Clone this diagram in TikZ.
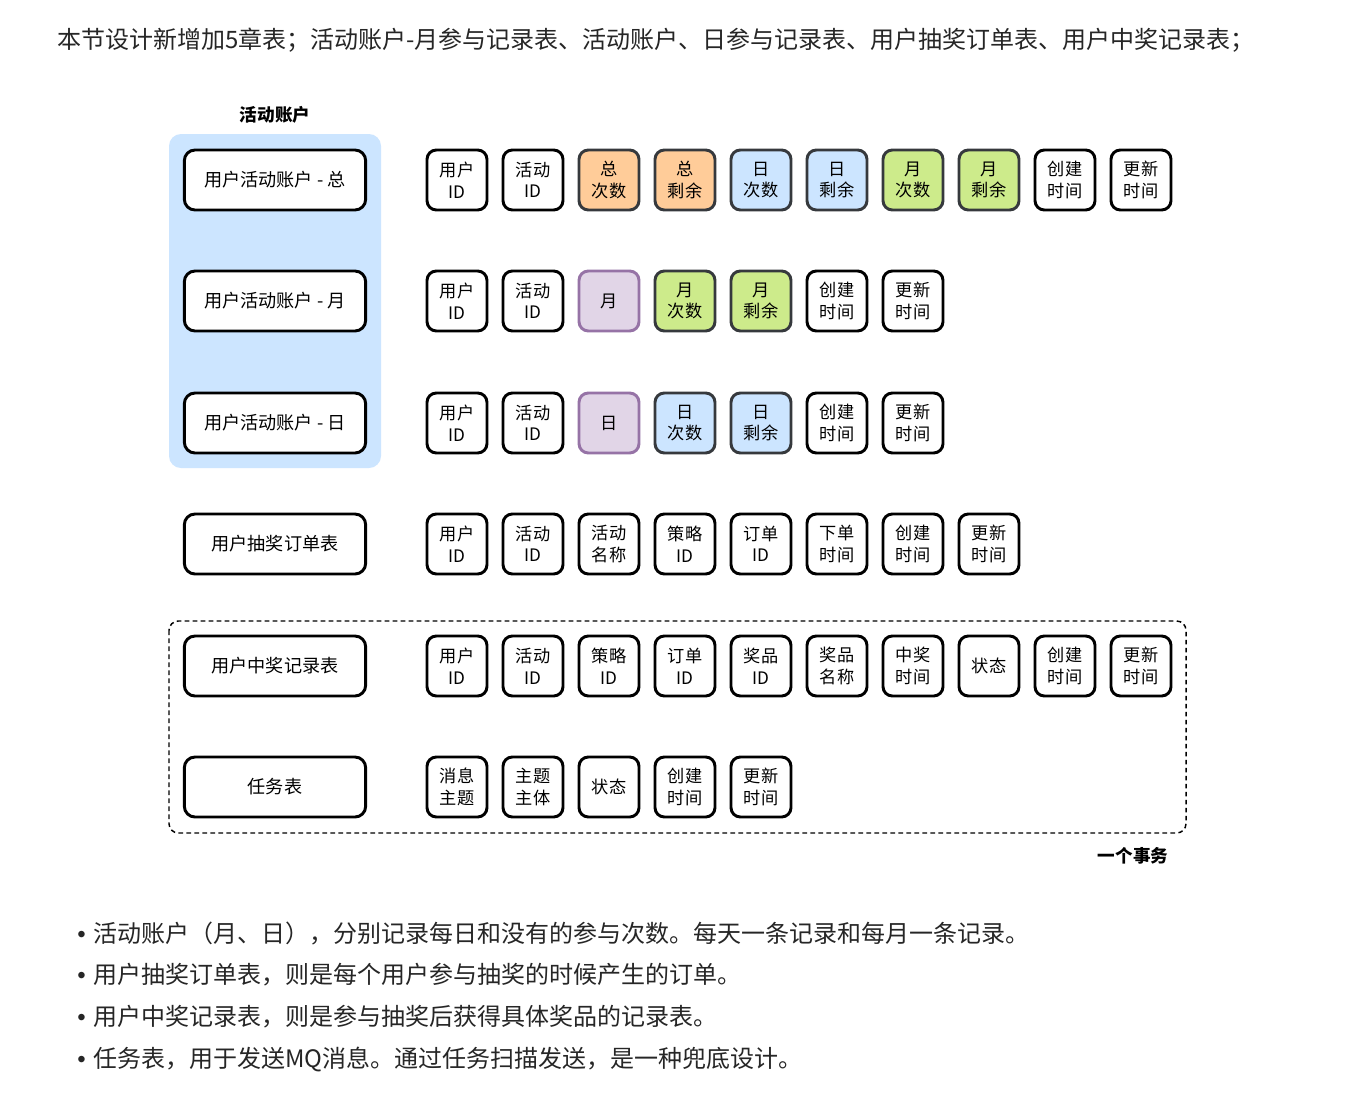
\documentclass[tikz,border=0pt]{standalone}
\usepackage{fontspec}
\setmainfont{Noto Sans CJK SC}
\newfontfamily\bulfont{Liberation Sans}
\definecolor{txt}{HTML}{262626}
\definecolor{bgblue}{HTML}{CCE5FF}
\definecolor{org}{HTML}{FFCC99}
\definecolor{blu}{HTML}{CCE5FF}
\definecolor{grn}{HTML}{CDEB8B}
\definecolor{pur}{HTML}{E1D5E7}
\definecolor{purb}{HTML}{9673A6}
\definecolor{darkb}{HTML}{36393D}
\begin{document}
\begin{tikzpicture}[x=0.75pt,y=-0.75pt,
  field/.style={draw=black, line width=2.2pt, rounded corners=7pt, minimum width=45pt, minimum height=45pt,
    align=center, inner sep=0pt, font=\fontsize{12.9pt}{16.2pt}\selectfont, fill=white},
  plain/.style={field},
  fo/.style={field, fill=org, draw=darkb},
  fb/.style={field, fill=blu, draw=darkb},
  fg/.style={field, fill=grn, draw=darkb},
  fp/.style={field, fill=pur, draw=purb},
  tablebox/.style={draw=black, line width=2.2pt, rounded corners=8pt, minimum width=136pt, minimum height=45pt,
    inner sep=0pt, font=\fontsize{13.6pt}{16pt}\selectfont, fill=white},
  para/.style={anchor=west, inner sep=0pt, text=txt, font=\fontsize{18pt}{20pt}\selectfont},
  grouplabel/.style={font=\fontsize{13.2pt}{15pt}\selectfont\bfseries}
]
\useasboundingbox (0,0) rectangle (1362,1092);
\fill[white] (0,0) rectangle (1362,1092);

% heading text
\node[para] (intro) at (57,40) {本节设计新增加5章表；活动账户-月参与记录表、活动账户、日参与记录表、用户抽奖订单表、用户中奖记录表；};

% activity account group
\node[grouplabel] (grp) at (275,115) {活动账户};
\fill[bgblue, rounded corners=9pt] (169,134) rectangle (381,468);

% dashed transaction group
\draw[line width=1.1pt, dash pattern=on 3.5pt off 2.5pt, rounded corners=7pt] (169,621) rectangle (1186,833);
\node[grouplabel] (tx) at (1133,856) {一个事务};

% tables
\node[tablebox] (t1) at (275,180) {用户活动账户 - 总};
\node[tablebox] (t2) at (275,301) {用户活动账户 - 月};
\node[tablebox] (t3) at (275,423) {用户活动账户 - 日};
\node[tablebox] (t4) at (275,544) {用户抽奖订单表};
\node[tablebox] (t5) at (275,666) {用户中奖记录表};
\node[tablebox] (t6) at (275,787) {任务表};

% fields
\foreach \t/\s [count=\i] in {{用户\\ID}/plain,{活动\\ID}/plain,{总\\次数}/fo,{总\\剩余}/fo,{日\\次数}/fb,{日\\剩余}/fb,{月\\次数}/fg,{月\\剩余}/fg,{创建\\时间}/plain,{更新\\时间}/plain}
  \node[\s] (a\i) at (381+76*\i,180) {\t};
\foreach \t/\s [count=\i] in {{用户\\ID}/plain,{活动\\ID}/plain,{月}/fp,{月\\次数}/fg,{月\\剩余}/fg,{创建\\时间}/plain,{更新\\时间}/plain}
  \node[\s] (b\i) at (381+76*\i,301) {\t};
\foreach \t/\s [count=\i] in {{用户\\ID}/plain,{活动\\ID}/plain,{日}/fp,{日\\次数}/fb,{日\\剩余}/fb,{创建\\时间}/plain,{更新\\时间}/plain}
  \node[\s] (c\i) at (381+76*\i,423) {\t};
\foreach \t/\s [count=\i] in {{用户\\ID}/plain,{活动\\ID}/plain,{活动\\名称}/plain,{策略\\ID}/plain,{订单\\ID}/plain,{下单\\时间}/plain,{创建\\时间}/plain,{更新\\时间}/plain}
  \node[\s] (d\i) at (381+76*\i,544) {\t};
\foreach \t/\s [count=\i] in {{用户\\ID}/plain,{活动\\ID}/plain,{策略\\ID}/plain,{订单\\ID}/plain,{奖品\\ID}/plain,{奖品\\名称}/plain,{中奖\\时间}/plain,{状态}/plain,{创建\\时间}/plain,{更新\\时间}/plain}
  \node[\s] (e\i) at (381+76*\i,666) {\t};
\foreach \t/\s [count=\i] in {{消息\\主题}/plain,{主题\\主体}/plain,{状态}/plain,{创建\\时间}/plain,{更新\\时间}/plain}
  \node[\s] (f\i) at (381+76*\i,787) {\t};

% bullet notes
\node[para] (n1) at (77,933) {{\bulfont •}\hspace{5.5pt}活动账户（月、日），分别记录每日和没有的参与次数。每天一条记录和每月一条记录。};
\node[para] (n2) at (77,975) {{\bulfont •}\hspace{5.5pt}用户抽奖订单表，则是每个用户参与抽奖的时候产生的订单。};
\node[para] (n3) at (77,1017) {{\bulfont •}\hspace{5.5pt}用户中奖记录表，则是参与抽奖后获得具体奖品的记录表。};
\node[para] (n4) at (77,1059) {{\bulfont •}\hspace{5.5pt}任务表，用于发送MQ消息。通过任务扫描发送，是一种兜底设计。};
\end{tikzpicture}
\end{document}
